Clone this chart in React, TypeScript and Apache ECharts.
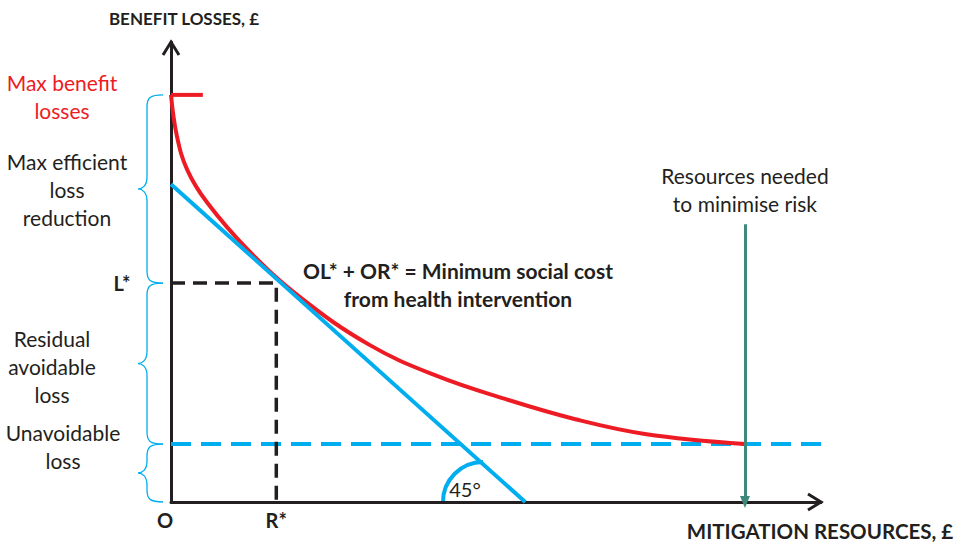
import React, { useEffect, useRef } from "react";
import * as echarts from "echarts";

// ---- Data (x: mitigation resources, y: benefit losses; arbitrary units 0-100) ----
const redCurveX = [0, 0.9, 2.5, 5.5, 11.7, 19.8, 30.6, 40.9, 51.4, 62.2, 72.9, 88.3];
const redCurveY = [88.5, 79.6, 72.2, 65.2, 55.0, 44.6, 34.1, 27.4, 22.4, 18.0, 14.8, 12.6];
const maxBenefit = 88.5;
const maxTickEnd = 4.9;
const lStar = 47.6;
const rStar = 16.2;
const unavoidable = 12.6;
const unavoidableEnd = 101.4;
const tangentX = [0, 54.5];
const tangentY = [69.1, 0];
const resourcesNeededX = 88.3;
const resourcesArrowTop = 60.4;
const angleCenterX = 48;

const RED = "#ed1c24";
const BLUE = "#00aeef";
const DARK = "#231f20";
const GREEN = "#3e8a7a";
const FONT = "Lato";

const Brace = echarts.graphic.extendShape({
  shape: { xEnd: 0, xMid: 0, xTip: 0, y0: 0, y1: 0 },
  buildPath(ctx: any, s: any) {
    const ym = (s.y0 + s.y1) / 2;
    const r = Math.min(12, (s.y1 - s.y0) / 4);
    ctx.moveTo(s.xEnd, s.y0);
    ctx.bezierCurveTo(s.xMid + 3, s.y0, s.xMid, s.y0 + 3, s.xMid, s.y0 + r);
    ctx.lineTo(s.xMid, ym - r);
    ctx.bezierCurveTo(s.xMid, ym - 3, s.xTip + 4, ym, s.xTip, ym);
    ctx.bezierCurveTo(s.xTip + 4, ym, s.xMid, ym + 3, s.xMid, ym + r);
    ctx.lineTo(s.xMid, s.y1 - r);
    ctx.bezierCurveTo(s.xMid, s.y1 - 3, s.xMid + 3, s.y1, s.xEnd, s.y1);
  },
});
echarts.graphic.registerShape("brace", Brace);

export default function App() {
  const ref = useRef<HTMLDivElement>(null);
  useEffect(() => {
    if (!ref.current) return;
    const chart = echarts.init(ref.current, null, { renderer: "svg" });
    const noSym = { symbol: "none", silent: true };
    chart.setOption({
      animation: false,
      grid: { left: 171, right: 141, top: 42, bottom: 40 },
      xAxis: {
        type: "value", min: 0, max: 100,
        axisLine: { show: true, onZero: false, lineStyle: { color: DARK, width: 3 } },
        axisTick: { show: false }, axisLabel: { show: false }, splitLine: { show: false },
      },
      yAxis: {
        type: "value", min: 0, max: 100,
        axisLine: { show: true, onZero: false, lineStyle: { color: DARK, width: 3 } },
        axisTick: { show: false }, axisLabel: { show: false }, splitLine: { show: false },
      },
      series: [
        {
          type: "line", ...noSym, clip: false,
          data: [[0, unavoidable], [unavoidableEnd, unavoidable]],
          lineStyle: { color: BLUE, width: 4, type: [20, 10] },
        },
        {
          type: "line", ...noSym,
          data: [[0, lStar], [rStar, lStar], [rStar, 0]],
          lineStyle: { color: DARK, width: 3.5, type: [14, 8] },
        },
        {
          type: "line", ...noSym, smooth: 0.4,
          data: redCurveX.map((x, i) => [x, redCurveY[i]]),
          lineStyle: { color: RED, width: 4 },
        },
        {
          type: "line", ...noSym,
          data: [[0, maxBenefit], [maxTickEnd, maxBenefit]],
          lineStyle: { color: RED, width: 4 },
        },
        {
          type: "line", ...noSym,
          data: tangentX.map((x, i) => [x, tangentY[i]]),
          lineStyle: { color: BLUE, width: 4 },
          markLine: {
            silent: true, symbol: ["none", "triangle"], symbolSize: [10, 12],
            label: { show: false },
            lineStyle: { color: GREEN, width: 3, type: "solid" },
            data: [[{ coord: [resourcesNeededX, resourcesArrowTop] }, { coord: [resourcesNeededX, 0] }]],
          },
        },
      ],
    });

    const px = (x: number, y: number) => chart.convertToPixel({ gridIndex: 0 }, [x, y]) as number[];
    const origin = px(0, 0);
    const xTip = px(100, 0);
    const yTip = px(0, 100);
    const pMax = px(0, maxBenefit);
    const pL = px(0, lStar);
    const pU = px(0, unavoidable);
    const pR = px(rStar, 0);
    const pA = px(angleCenterX, 0);
    const braceX = { xEnd: origin[0] - 8, xMid: origin[0] - 24, xTip: origin[0] - 33 };

    const txt = (text: string, x: number, y: number, opts: any = {}) => ({
      type: "text", x, y, silent: true,
      style: {
        text, fill: opts.fill || DARK, font: `${opts.bold ? "bold " : ""}${opts.size || 21}px ${FONT}`,
        align: "center", verticalAlign: "middle", lineHeight: opts.lh || 28,
      },
    });

    chart.setOption({
      graphic: [
        { type: "polyline", silent: true, shape: { points: [[xTip[0] - 13, xTip[1] - 8], xTip, [xTip[0] - 13, xTip[1] + 8]] }, style: { stroke: DARK, lineWidth: 3, fill: null } },
        { type: "polyline", silent: true, shape: { points: [[yTip[0] - 8, yTip[1] + 13], yTip, [yTip[0] + 8, yTip[1] + 13]] }, style: { stroke: DARK, lineWidth: 3, fill: null } },
        { type: "brace", silent: true, shape: { ...braceX, y0: pMax[1], y1: pL[1] }, style: { stroke: BLUE, lineWidth: 1.3, fill: null } },
        { type: "brace", silent: true, shape: { ...braceX, y0: pL[1], y1: pU[1] }, style: { stroke: BLUE, lineWidth: 1.3, fill: null } },
        { type: "brace", silent: true, shape: { ...braceX, y0: pU[1], y1: origin[1] }, style: { stroke: BLUE, lineWidth: 1.3, fill: null } },
        { type: "arc", silent: true, shape: { cx: pA[0], cy: pA[1], r: 40, startAngle: Math.PI, endAngle: Math.PI * 1.5, clockwise: true }, style: { stroke: BLUE, lineWidth: 4, fill: null } },
        txt("45°", pA[0] - 18, pA[1] - 13, { size: 20 }),
        txt("BENEFIT LOSSES, £", 184, 18, { bold: true, size: 17 }),
        txt("MITIGATION RESOURCES, £", 820, 531, { bold: true, size: 20.5 }),
        txt("Max benefit\nlosses", 62, 96, { fill: RED }),
        txt("Max efficient\nloss\nreduction", 67, 189),
        txt("Residual\navoidable\nloss", 52, 366),
        txt("Unavoidable\nloss", 63, 446),
        txt("L*", origin[0] - 49, pL[1], { bold: true, size: 20 }),
        txt("O", origin[0] - 6, 520, { bold: true, size: 20 }),
        txt("R*", pR[0], 520, { bold: true, size: 20 }),
        txt("OL* + OR* = Minimum social cost\nfrom health intervention", 458, 284, { bold: true, size: 21 }),
        txt("Resources needed\nto minimise risk", px(resourcesNeededX, 0)[0], 189),
      ],
    });
    return () => chart.dispose();
  }, []);
  return <div ref={ref} style={{ position: "absolute", left: 0, top: 0, width: 962, height: 542, background: "#fff" }} />;
}
